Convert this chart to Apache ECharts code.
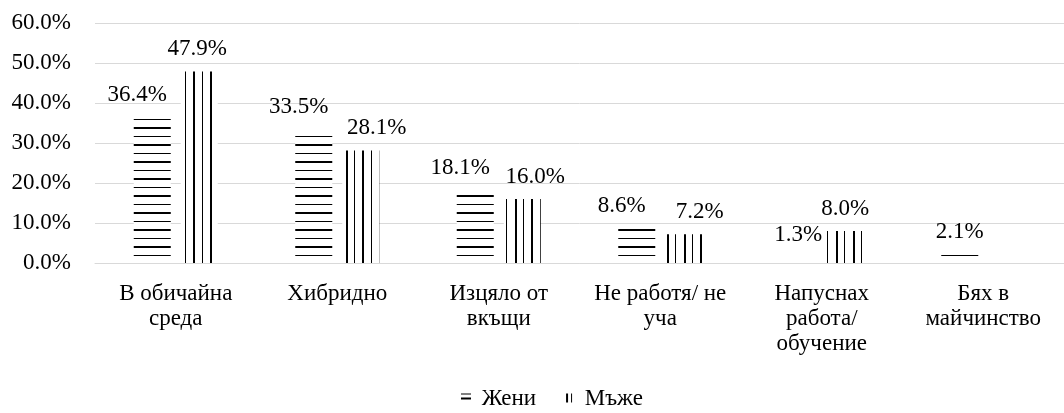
<!DOCTYPE html>
<html>
<head>
<meta charset="utf-8">
<title>Жени / Мъже</title>
<script src="https://cdn.jsdelivr.net/npm/echarts@6/dist/echarts.min.js"></script>
<style>
    html, body { margin: 0; padding: 0; background: #fff; }
    #chart { width: 1064px; height: 413px; }
</style>
</head>
<body>
<div id="chart"></div>
<script>
// категории (подписите са пренесени на редове както в оригинала)
var categories = [
    'В обичайна\nсреда',
    'Хибридно',
    'Изцяло от\nвкъщи',
    'Не работя/ не\nуча',
    'Напуснах\nработа/\nобучение',
    'Бях в\nмайчинство'
];

var seriesNames = ['Жени', 'Мъже'];

// стойности в проценти
var womenValues = [36.4, 33.5, 18.1, 8.6, 1.3, 2.1];
var menValues   = [47.9, 28.1, 16.0, 7.2, 8.0, null];

// деления на оста Y
var yTicks = [0, 10, 20, 30, 40, 50, 60];

var fontFamily = '"Liberation Serif", "Times New Roman", serif';
var fontSize = 23;

// ---- шарки (hatch) ----
// хоризонтални линии, през 8.5px, редуват се тънка/дебела
function hatchHorizontal() {
    var c = document.createElement('canvas');
    c.width = 17; c.height = 17;
    var g = c.getContext('2d');
    g.fillStyle = '#fff';
    g.fillRect(0, 0, 17, 17);
    g.fillStyle = '#000';
    g.fillRect(0, 0, 17, 1);
    g.fillRect(0, 8, 17, 2);
    return c;
}

// вертикални линии, през ~8.45px
function hatchVertical() {
    var w = 169;
    var c = document.createElement('canvas');
    c.width = w; c.height = 4;
    var g = c.getContext('2d');
    g.fillStyle = '#fff';
    g.fillRect(0, 0, w, 4);
    g.fillStyle = '#000';
    for (var k = 0; k < 20; k++) {
        var x = Math.round(16 + 8.45 * k) % w;
        g.fillRect(x, 0, k % 2 ? 2 : 1, 4);
    }
    return c;
}

// малки иконки за легендата
function legendIcon(vertical) {
    var c = document.createElement('canvas');
    c.width = 10; c.height = 12;
    var g = c.getContext('2d');
    g.fillStyle = '#000';
    if (vertical) {
        g.fillRect(2, 1, 2, 9);
        g.fillRect(7, 1, 1, 9);
    } else {
        g.fillRect(0, 1, 10, 1);
        g.fillRect(0, 5, 10, 2);
    }
    return 'image://' + c.toDataURL();
}

// ръчно преместени етикети (както в оригинала)
var shiftWomen = [-15, -15, -15, -15, 0, 0];
var shiftMen   = [-2, 16, 13, 16, 0, 0];

function withLabelShift(values, shifts) {
    return values.map(function (v, i) {
        return { value: v, label: { offset: [shifts[i], 0] } };
    });
}

function pct(v) {
    return v.toFixed(1) + '%';
}

var barLabel = {
    show: true,
    position: 'top',
    distance: 11,
    color: '#000',
    fontFamily: fontFamily,
    fontSize: fontSize,
    formatter: function (p) {
        return p.value == null ? '' : pct(p.value);
    }
};

var chart = echarts.init(document.getElementById('chart'));

var option = {
    animation: false,
    backgroundColor: '#fff',
    textStyle: { fontFamily: fontFamily },
    grid: {
        left: 95,
        top: 23,
        width: 978,
        height: 240
    },
    legend: {
        left: 456,
        top: 382,
        itemWidth: 10,
        itemHeight: 12,
        itemGap: 28,
        formatter: ' {name}',
        textStyle: { color: '#000', fontSize: fontSize, fontFamily: fontFamily },
        data: [
            { name: seriesNames[0], icon: legendIcon(false) },
            { name: seriesNames[1], icon: legendIcon(true) }
        ]
    },
    xAxis: {
        type: 'category',
        data: categories,
        axisLine: { show: true, lineStyle: { color: '#d9d9d9', width: 1 } },
        axisTick: { show: false },
        axisLabel: {
            color: '#000',
            fontSize: fontSize,
            fontFamily: fontFamily,
            lineHeight: 25,
            margin: 18,
            interval: 0
        }
    },
    yAxis: {
        type: 'value',
        min: yTicks[0],
        max: yTicks[yTicks.length - 1],
        interval: yTicks[1] - yTicks[0],
        axisLine: { show: false },
        axisTick: { show: false },
        splitLine: { lineStyle: { color: '#d9d9d9', width: 1 } },
        axisLabel: {
            color: '#000',
            fontSize: fontSize,
            fontFamily: fontFamily,
            margin: 24,
            formatter: function (v) { return pct(v); }
        }
    },
    series: [
        {
            name: seriesNames[0],
            type: 'bar',
            barWidth: 37,
            barGap: '27%',
            itemStyle: { color: { image: hatchHorizontal(), repeat: 'repeat' } },
            label: barLabel,
            data: withLabelShift(womenValues, shiftWomen)
        },
        {
            name: seriesNames[1],
            type: 'bar',
            barWidth: 37,
            barGap: '27%',
            itemStyle: { color: { image: hatchVertical(), repeat: 'repeat' } },
            label: barLabel,
            data: withLabelShift(menValues, shiftMen)
        }
    ]
};

chart.setOption(option);
</script>
</body>
</html>
